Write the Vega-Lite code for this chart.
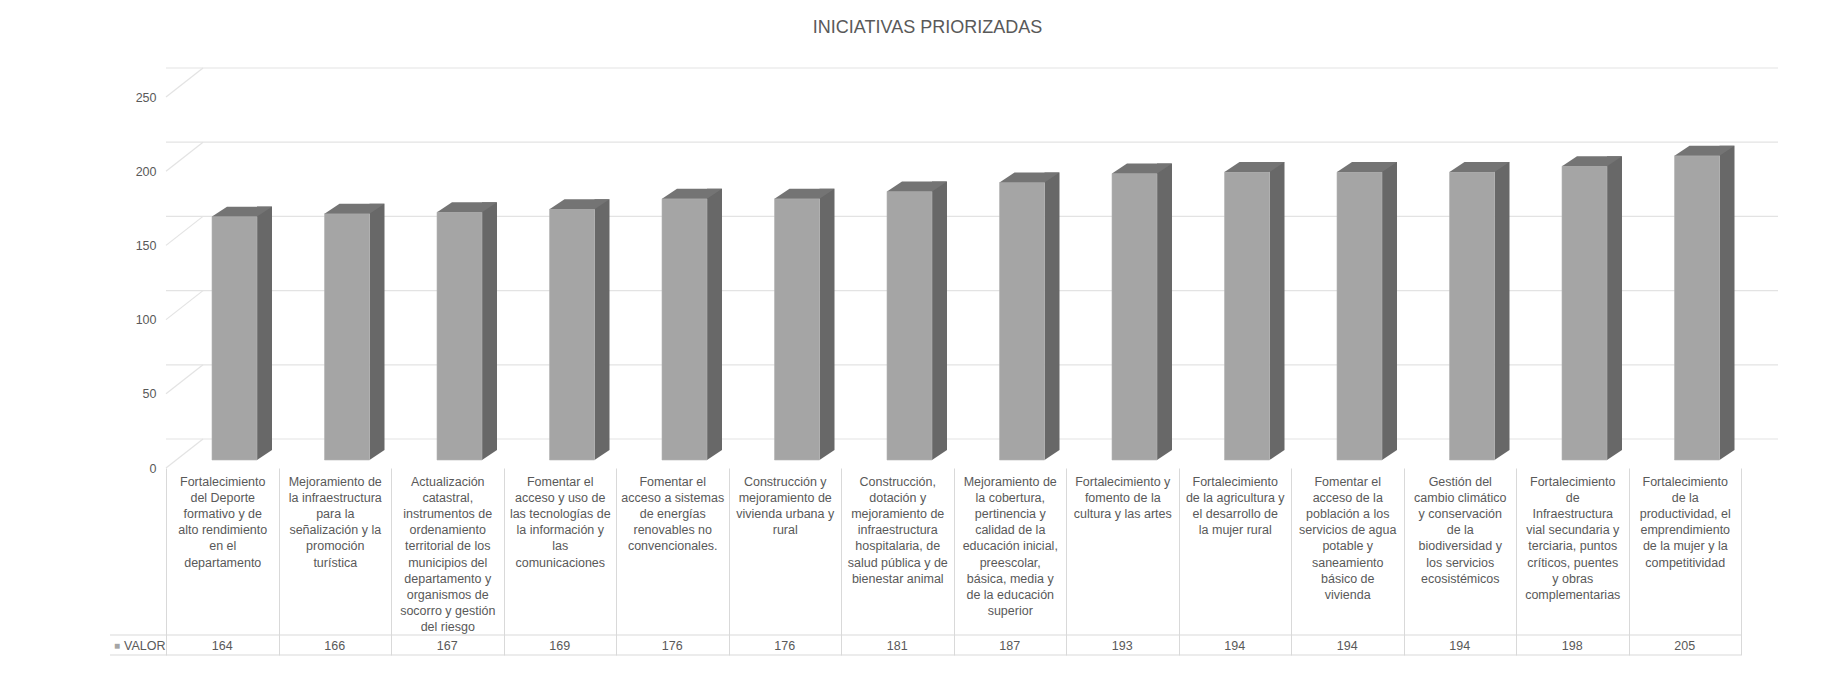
{
  "$schema": "https://vega.github.io/schema/vega-lite/v6.json",
  "autosize": {"type": "none"},
  "width": 1575,
  "height": 371,
  "padding": {"left": 166, "top": 97, "right": 106, "bottom": 210},
  "background": "white",
  "title": {
    "text": "INICIATIVAS PRIORIZADAS",
    "anchor": "middle",
    "offset": 30,
    "dx": -26,
    "fontSize": 18,
    "fontWeight": "normal",
    "font": "Liberation Sans Narrow, Liberation Sans, sans-serif",
    "color": "#595959"
  },
  "config": {
    "view": {"stroke": null},
    "axis": {"labelFont": "Liberation Sans Narrow, Liberation Sans, sans-serif", "labelColor": "#595959"}
  },
  "datasets": {
    "iniciativas": [
      {"iniciativa": "Fortalecimiento|del Deporte|formativo y de|alto rendimiento|en el|departamento", "valor": 164},
      {"iniciativa": "Mejoramiento de|la infraestructura|para la|señalización y la|promoción|turística", "valor": 166},
      {"iniciativa": "Actualización|catastral,|instrumentos de|ordenamiento|territorial de los|municipios del|departamento y|organismos de|socorro y gestión|del riesgo", "valor": 167},
      {"iniciativa": "Fomentar el|acceso y uso de|las tecnologías de|la información y|las|comunicaciones", "valor": 169},
      {"iniciativa": "Fomentar el|acceso a sistemas|de energías|renovables no|convencionales.", "valor": 176},
      {"iniciativa": "Construcción y|mejoramiento de|vivienda urbana y|rural", "valor": 176},
      {"iniciativa": "Construcción,|dotación y|mejoramiento de|infraestructura|hospitalaria, de|salud pública y de|bienestar animal", "valor": 181},
      {"iniciativa": "Mejoramiento de|la cobertura,|pertinencia y|calidad de la|educación inicial,|preescolar,|básica, media y|de la educación|superior", "valor": 187},
      {"iniciativa": "Fortalecimiento y|fomento de la|cultura y las artes", "valor": 193},
      {"iniciativa": "Fortalecimiento|de la agricultura y|el desarrollo de|la mujer rural", "valor": 194},
      {"iniciativa": "Fomentar el|acceso de la|población a los|servicios de agua|potable y|saneamiento|básico de|vivienda", "valor": 194},
      {"iniciativa": "Gestión del|cambio climático|y conservación|de la|biodiversidad y|los servicios|ecosistémicos", "valor": 194},
      {"iniciativa": "Fortalecimiento|de|Infraestructura|vial secundaria y|terciaria, puntos|críticos, puentes|y obras|complementarias", "valor": 198},
      {"iniciativa": "Fortalecimiento|de la|productividad, el|emprendimiento|de la mujer y la|competitividad", "valor": 205}
    ],
    "escala": [{"v": 0}, {"v": 50}, {"v": 100}, {"v": 150}, {"v": 200}, {"v": 250}]
  },
  "layer": [
    {
      "data": {"name": "escala"},
      "mark": {"type": "rule", "color": "#e3e3e3", "strokeWidth": 1.2, "xOffset": 37, "yOffset": -29},
      "encoding": {
        "y": {
          "field": "v", "type": "quantitative",
          "scale": {"domain": [0, 250], "nice": false},
          "axis": {"title": null, "domain": false, "ticks": false, "grid": false, "values": [0, 50, 100, 150, 200, 250], "labelPadding": 10, "labelFontSize": 12.5}
        }
      }
    },
    {
      "data": {"name": "iniciativas"},
      "mark": {"type": "bar", "color": "#686868", "width": 15, "xOffset": 42.25, "yOffset": -18},
      "encoding": {
        "x": {
          "field": "iniciativa", "type": "nominal", "sort": null,
          "scale": {"paddingInner": 0, "paddingOuter": 0},
          "axis": {
            "title": null, "labelAngle": 0, "domain": false,
            "ticks": true, "tickBand": "extent", "tickSize": 187, "tickColor": "#d9d9d9",
            "labelPadding": -180, "labelFontSize": 12.5, "labelLineHeight": 16.2,
            "labelAlign": "center", "labelBaseline": "top", "labelLimit": 200,
            "labelExpr": "split(datum.label, '|')"
          }
        },
        "y": {"field": "valor", "type": "quantitative"}
      }
    },
    {
      "data": {"name": "iniciativas"},
      "mark": {"type": "point", "shape": "M-1,0L-1,-1.333L1,-1.333Z", "size": 225, "filled": true, "opacity": 1, "strokeWidth": 0, "color": "#686868", "xOffset": 42.25, "yOffset": -8},
      "encoding": {
        "x": {"field": "iniciativa", "type": "nominal", "sort": null},
        "y": {"datum": 0}
      }
    },
    {
      "data": {"name": "iniciativas"},
      "mark": {"type": "bar", "color": "#a5a5a5", "stroke": "#b4b4b4", "strokeWidth": 0.6, "width": 45, "xOffset": 12.25, "yOffset": -8},
      "encoding": {
        "x": {"field": "iniciativa", "type": "nominal", "sort": null},
        "y": {"field": "valor", "type": "quantitative"},
        "tooltip": [{"field": "valor", "type": "quantitative", "title": "VALOR"}]
      }
    },
    {
      "data": {"name": "iniciativas"},
      "mark": {"type": "point", "shape": "M-1,0L0.5,0L1,-0.333L-0.5,-0.333Z", "size": 3600, "filled": true, "opacity": 1, "strokeWidth": 0, "color": "#747474", "xOffset": 19.75, "yOffset": -8},
      "encoding": {
        "x": {"field": "iniciativa", "type": "nominal", "sort": null},
        "y": {"field": "valor", "type": "quantitative"}
      }
    },
    {
      "data": {"name": "iniciativas"},
      "mark": {"type": "text", "dy": 178, "fontSize": 12.5, "color": "#595959", "font": "Liberation Sans Narrow, Liberation Sans, sans-serif"},
      "encoding": {
        "x": {"field": "iniciativa", "type": "nominal", "sort": null},
        "y": {"datum": 0},
        "text": {"field": "valor", "type": "quantitative"}
      }
    },
    {
      "data": {"name": "escala"},
      "mark": {"type": "rule", "color": "#e3e3e3", "strokeWidth": 1.2, "x2Offset": 37, "y2Offset": -29},
      "encoding": {
        "x": {"datum": "Fortalecimiento|del Deporte|formativo y de|alto rendimiento|en el|departamento", "type": "nominal", "bandPosition": 0},
        "x2": {"datum": "Fortalecimiento|del Deporte|formativo y de|alto rendimiento|en el|departamento", "bandPosition": 0},
        "y": {"field": "v", "type": "quantitative"},
        "y2": {"field": "v"}
      }
    },
    {
      "data": {"name": "escala"},
      "transform": [{"filter": "datum.v == 0"}],
      "mark": {"type": "text", "text": "■", "align": "left", "dx": 4, "dy": 178, "xOffset": -56, "fontSize": 10, "color": "#a5a5a5"},
      "encoding": {
        "x": {"datum": "Fortalecimiento|del Deporte|formativo y de|alto rendimiento|en el|departamento", "type": "nominal", "bandPosition": 0},
        "y": {"field": "v", "type": "quantitative"}
      }
    },
    {
      "data": {"name": "escala"},
      "transform": [{"filter": "datum.v == 0"}],
      "mark": {"type": "text", "text": "VALOR", "align": "left", "dx": 14, "dy": 178, "xOffset": -56, "fontSize": 12.5, "color": "#595959", "font": "Liberation Sans Narrow, Liberation Sans, sans-serif"},
      "encoding": {
        "x": {"datum": "Fortalecimiento|del Deporte|formativo y de|alto rendimiento|en el|departamento", "type": "nominal", "bandPosition": 0},
        "y": {"field": "v", "type": "quantitative"}
      }
    },
    {
      "data": {"name": "escala"},
      "transform": [{"filter": "datum.v == 0"}],
      "mark": {"type": "rule", "color": "#d9d9d9", "xOffset": -56, "yOffset": 167},
      "encoding": {
        "x": {"datum": "Fortalecimiento|del Deporte|formativo y de|alto rendimiento|en el|departamento", "type": "nominal", "bandPosition": 0},
        "x2": {"datum": "Fortalecimiento|de la|productividad, el|emprendimiento|de la mujer y la|competitividad", "bandPosition": 1},
        "y": {"field": "v", "type": "quantitative"}
      }
    },
    {
      "data": {"name": "escala"},
      "transform": [{"filter": "datum.v == 0"}],
      "mark": {"type": "rule", "color": "#d9d9d9", "xOffset": -56, "yOffset": 187},
      "encoding": {
        "x": {"datum": "Fortalecimiento|del Deporte|formativo y de|alto rendimiento|en el|departamento", "type": "nominal", "bandPosition": 0},
        "x2": {"datum": "Fortalecimiento|de la|productividad, el|emprendimiento|de la mujer y la|competitividad", "bandPosition": 1},
        "y": {"field": "v", "type": "quantitative"}
      }
    }
  ]
}
